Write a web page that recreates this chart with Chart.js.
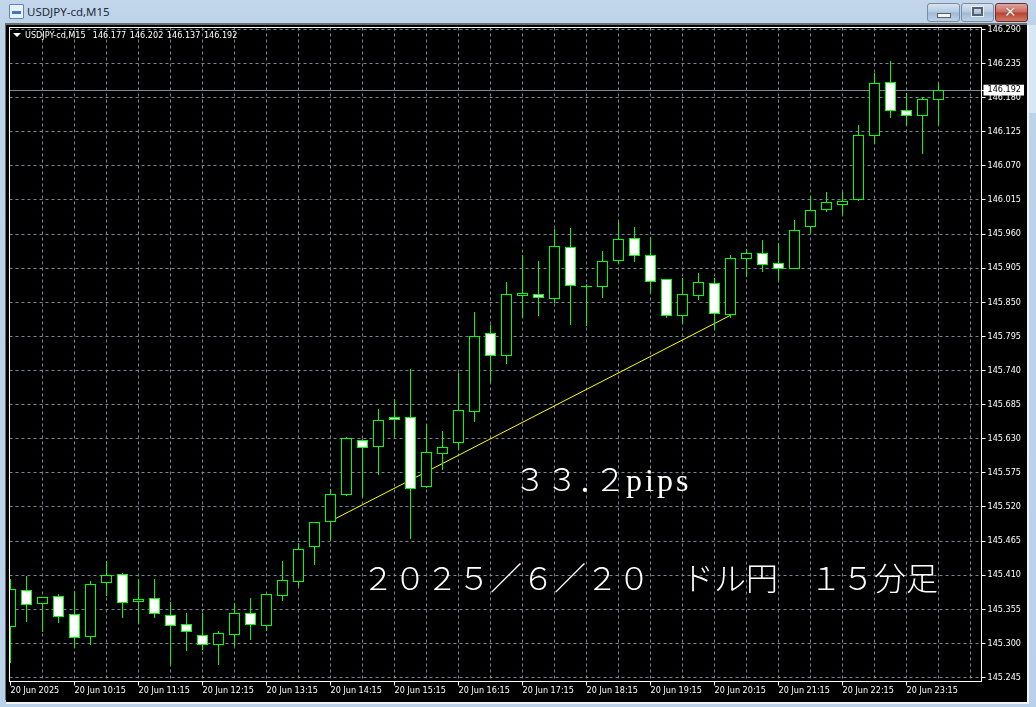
<!DOCTYPE html>
<html lang="ja">
<head>
<meta charset="utf-8">
<title>USDJPY-cd,M15</title>
<script src="https://cdn.jsdelivr.net/npm/chart.js@4/dist/chart.umd.js"></script>
<style>
html,body{margin:0;padding:0;width:1036px;height:707px;overflow:hidden;background:#b9d1ea;font-family:"Liberation Sans",sans-serif}
#frame{position:absolute;left:0;top:0;width:1036px;height:707px;background:linear-gradient(180deg,#c3d6ea 0,#bcd3ea 24px,#b9d1ea 100%)}
#glow{position:absolute;left:1029px;top:25px;width:7px;height:88px;background:#d9e6f4}
#black{position:absolute;left:6px;top:25px;width:1021px;height:677px;background:#000;box-shadow:0 -2px 0 #6d6d6d,-1px -2px 0 #6d6d6d,1px 1px 0 1px #f2f2f2}
#chart{position:absolute;left:0;top:0}
#box{position:absolute;left:9px;top:27px;width:971px;height:653px;border:1px solid #fff;pointer-events:none}
#title{position:absolute;left:27px;top:3px;font:11.5px/18px "Noto Sans",sans-serif;color:#1e2a38}
#icon{position:absolute;left:9px;top:4px;width:13px;height:13px;background:#e8f1fb;border:1px solid #5f86b3;border-radius:1px}
#icon:before{content:"";position:absolute;left:2px;top:6px;width:9px;height:3px;background:#3f79b7}
#legend{position:absolute;left:25px;top:29px;font:9px/12px "DejaVu Sans Condensed","DejaVu Sans",sans-serif;color:#fff;white-space:pre;word-spacing:1px}
#tri{position:absolute;left:13px;top:33px;width:0;height:0;border-left:4px solid transparent;border-right:4px solid transparent;border-top:4px solid #fff}
.btn{position:absolute;top:3px;width:31px;height:17px;border:1px solid #7b8ca3;border-radius:3px;background:linear-gradient(180deg,#d6e3f1 0,#b5cbe2 48%,#9fb9d4 52%,#bcd2e8 100%)}
.btn.x{border-color:#6e2b33;background:linear-gradient(180deg,#dba69f 0,#cc6a5c 48%,#b8402d 52%,#cf7a68 100%)}
#b1:after{content:"";position:absolute;left:9px;top:9px;width:12px;height:3px;background:#f4f4f4;border:1px solid #56606e}
#b2:after{content:"";position:absolute;left:10px;top:3px;width:7px;height:5px;border:2px solid #56606e;outline:1px solid #eee}
#b3:after{content:"✕";position:absolute;left:8px;top:-2px;font:bold 15px/20px "DejaVu Sans",sans-serif;color:#f4eeee;text-shadow:0 0 1px #4a1a1a}
.note{position:absolute;white-space:pre;color:#fff;font-family:"Noto Sans CJK JP",sans-serif;font-size:32px;line-height:40px;font-weight:300}
.latin{font-family:"Liberation Serif",serif;letter-spacing:3px}
.tight{letter-spacing:-16px}
</style>
</head>
<body>
<div id="frame"></div>
<div id="glow"></div>
<div id="icon"></div>
<div id="title">USDJPY-cd,M15</div>
<div class="btn" id="b1" style="left:927px"></div>
<div class="btn" id="b2" style="left:961px"></div>
<div class="btn x" id="b3" style="left:995px"></div>
<div id="black"></div>
<canvas id="chart" width="1036" height="707"></canvas>
<div id="box"></div>
<div id="tri"></div>
<div id="legend">USDJPY-cd,M15  146.177 146.202 146.137 146.192</div>
<div class="note" style="left:514px;top:457px">３３<span class="tight">．</span>２<span class="latin">pips</span></div>
<div class="note" style="left:362px;top:556px">２０２５／６／２０　ドル円　１５分足</div>
<script>
const opens = [145.327,145.385,145.364,145.376,145.347,145.311,145.398,145.411,145.368,145.372,145.345,145.330,145.313,145.298,145.314,145.348,145.329,145.377,145.400,145.456,145.497,145.540,145.627,145.618,145.664,145.664,145.553,145.606,145.624,145.674,145.800,145.764,145.861,145.863,145.856,145.938,145.876,145.876,145.917,145.953,145.926,145.887,145.829,145.861,145.880,145.830,145.921,145.929,145.913,145.905,145.972,146.000,146.008,146.016,146.119,146.205,146.159,146.151,146.177];
const closes = [145.387,145.363,145.374,145.343,145.310,145.395,145.410,145.366,145.371,145.348,145.329,145.319,145.298,145.316,145.348,145.330,145.379,145.401,145.451,145.495,145.540,145.630,145.616,145.659,145.661,145.550,145.608,145.616,145.676,145.795,145.764,145.863,145.864,145.858,145.940,145.877,145.876,145.916,145.951,145.926,145.884,145.829,145.863,145.882,145.832,145.921,145.929,145.911,145.905,145.966,145.998,146.011,146.013,146.119,146.203,146.159,146.151,146.177,146.192];
const highs = [145.403,145.408,145.374,145.379,145.384,145.400,145.432,145.413,145.403,145.403,145.366,145.348,145.348,145.319,145.364,145.372,145.379,145.432,145.461,145.495,145.548,145.632,145.629,145.677,145.693,145.742,145.653,145.642,145.735,145.834,145.813,145.882,145.926,145.916,145.967,145.969,145.879,145.932,145.979,145.971,145.955,145.887,145.888,145.897,145.888,145.926,145.935,145.950,145.945,145.982,146.021,146.027,146.027,146.135,146.219,146.238,146.187,146.180,146.202];
const lows = [145.269,145.335,145.319,145.334,145.293,145.298,145.377,145.342,145.332,145.342,145.266,145.289,145.290,145.266,145.297,145.306,145.321,145.369,145.393,145.427,145.466,145.538,145.537,145.572,145.634,145.469,145.551,145.580,145.613,145.658,145.722,145.751,145.826,145.829,145.850,145.814,145.813,145.858,145.913,145.916,145.866,145.826,145.816,145.855,145.806,145.826,145.892,145.900,145.885,145.905,145.963,145.997,145.992,146.014,146.106,146.148,146.135,146.090,146.137];
const timeLabels = ["20 Jun 2025","20 Jun 10:15","20 Jun 11:15","20 Jun 12:15","20 Jun 13:15","20 Jun 14:15","20 Jun 15:15","20 Jun 16:15","20 Jun 17:15","20 Jun 18:15","20 Jun 19:15","20 Jun 20:15","20 Jun 21:15","20 Jun 22:15","20 Jun 23:15"];
const priceTicks = [146.290,146.235,146.180,146.125,146.070,146.015,145.960,145.905,145.850,145.795,145.740,145.685,145.630,145.575,145.520,145.465,145.410,145.355,145.300,145.245];
const currentPrice = 146.192;
const trendStart = {candle:20, price:145.497};
const trendEnd = {candle:45, price:145.829};

const LIME = '#00ff00', GRID = '#778899', AXIS_FONT = '"DejaVu Sans Condensed","DejaVu Sans"';
const candleIdx = opens.map((_, i) => i);

/* Snap bar edges and the horizontal price line to whole pixel rows so that they stay crisp. */
const crispBars = {
  id: 'crispBars',
  afterDatasetsUpdate(chart) {
    chart.data.datasets.forEach((d, i) => {
      const els = chart.getDatasetMeta(i).data;
      if (d.type === 'bar') {
        els.forEach(el => {
          const t = Math.round(Math.min(el.y, el.base) - 0.5);
          const b = Math.round(Math.max(el.y, el.base) - 0.5) + 1;
          el.y = t; el.base = b; el.height = b - t;
        });
      } else if (d.label === 'price') {
        els.forEach(el => { el.y = Math.round(el.y - 0.5) + 0.5; });
      }
    });
  }
};
const noPadding = s => { s.paddingTop = s.paddingBottom = s.paddingLeft = s.paddingRight = 0; };

new Chart(document.getElementById('chart'), {
  type: 'bar',
  plugins: [crispBars],
  data: {
    datasets: [
      { type:'bar', label:'body', order:1, grouped:false, barThickness:11, borderWidth:1, borderSkipped:false, inflateAmount:0,
        borderColor:LIME, backgroundColor:candleIdx.map(i => closes[i] < opens[i] ? '#ffffff' : '#000000'),
        data:candleIdx.map(i => ({x:i, y:[opens[i], closes[i]]})) },
      { type:'bar', label:'wick', order:2, grouped:false, barThickness:1, borderWidth:0, inflateAmount:0,
        backgroundColor:LIME, data:candleIdx.map(i => ({x:i, y:[lows[i], highs[i]]})) },
      { type:'line', label:'trend', order:3, borderColor:'#ffff00', borderWidth:1, pointRadius:0, tension:0,
        data:[{x:trendStart.candle, y:trendStart.price},{x:trendEnd.candle, y:trendEnd.price}] },
      { type:'line', label:'price', order:4, borderColor:GRID, borderWidth:1, pointRadius:0, tension:0,
        data:[{x:-1, y:currentPrice},{x:61, y:currentPrice}] }
    ]
  },
  options: {
    responsive:false, animation:false, devicePixelRatio:1,
    layout:{padding:{left:9.5,top:27.5,right:0,bottom:0}},
    plugins:{legend:{display:false},tooltip:{enabled:false}},
    scales:{
      x:{
        type:'linear', position:'bottom', offset:false, min:-0.0625, max:60.6875,
        afterBuildTicks(s){ const t=[]; for(let v=0;v<=60;v+=2) t.push({value:v}); s.ticks=t; },
        afterFit(s){ s.height = 25.5; noPadding(s); },
        border:{display:false, dash:[3,3]},
        grid:{
          offset:false, lineWidth:1, tickLength:4, tickBorderDash:[1,0],
          color:c => c.tick && c.tick.value === 0 ? 'transparent' : GRID,
          tickColor:c => (c.tick && c.tick.value % 4 === 0 && c.tick.value/4 < timeLabels.length) ? '#ffffff' : 'transparent'
        },
        ticks:{
          autoSkip:false, maxRotation:0, minRotation:0, align:'start', padding:0,
          color:'#ffffff', font:{family:AXIS_FONT, size:9},
          callback:v => (v % 4 === 0 && v/4 < timeLabels.length) ? timeLabels[v/4] : ''
        }
      },
      y:{
        type:'linear', position:'right', min:145.23849, max:146.29295,
        afterBuildTicks(s){ s.ticks = priceTicks.concat(currentPrice).map(v => ({value:v})); },
        afterFit(s){ s.width = 54.5; noPadding(s); },
        border:{display:false, dash:[3,3]},
        grid:{
          lineWidth:1, tickLength:4, tickBorderDash:[1,0], tickColor:'#ffffff',
          color:c => c.tick && c.tick.value === currentPrice ? 'transparent' : GRID
        },
        ticks:{
          autoSkip:false, padding:2, align:'center',
          color:c => c.tick && c.tick.value === currentPrice ? '#000000' : '#ffffff',
          font:{family:AXIS_FONT, size:9},
          showLabelBackdrop:c => !!(c.tick && c.tick.value === currentPrice),
          backdropColor:'#ffffff', backdropPadding:{top:0,bottom:0,left:4,right:3},
          callback:v => v.toFixed(3)
        }
      }
    }
  }
});
</script>
</body>
</html>
